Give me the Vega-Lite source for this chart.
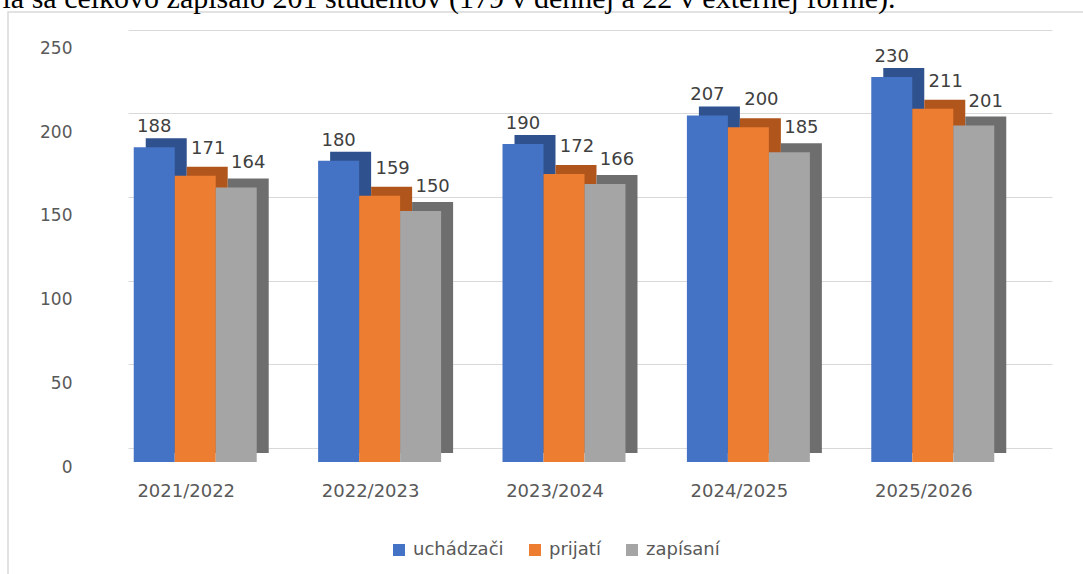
{
  "$schema": "https://vega.github.io/schema/vega-lite/v6.json",
  "autosize": "none",
  "width": 1085,
  "height": 572,
  "padding": {"left": 8, "top": 12, "right": -10, "bottom": -10},
  "background": "white",
  "data": {
    "values": [
      {"year": "2021/2022", "series": "uchádzači", "value": 188},
      {"year": "2021/2022", "series": "prijatí", "value": 171},
      {"year": "2021/2022", "series": "zapísaní", "value": 164},
      {"year": "2022/2023", "series": "uchádzači", "value": 180},
      {"year": "2022/2023", "series": "prijatí", "value": 159},
      {"year": "2022/2023", "series": "zapísaní", "value": 150},
      {"year": "2023/2024", "series": "uchádzači", "value": 190},
      {"year": "2023/2024", "series": "prijatí", "value": 172},
      {"year": "2023/2024", "series": "zapísaní", "value": 166},
      {"year": "2024/2025", "series": "uchádzači", "value": 207},
      {"year": "2024/2025", "series": "prijatí", "value": 200},
      {"year": "2024/2025", "series": "zapísaní", "value": 185},
      {"year": "2025/2026", "series": "uchádzači", "value": 230},
      {"year": "2025/2026", "series": "prijatí", "value": 211},
      {"year": "2025/2026", "series": "zapísaní", "value": 201}
    ]
  },
  "config": {
    "font": "DejaVu Sans",
    "view": {"stroke": "#D9D9D9", "strokeWidth": 1.5}
  },
  "layer": [
    {
      "mark": {"type": "bar", "opacity": 0},
      "encoding": {
        "x": {
          "field": "year", "type": "nominal",
          "scale": {"range": [120, 1044], "paddingInner": 0.333, "paddingOuter": 0.1667},
          "axis": {"orient": "top", "labels": false, "ticks": false, "domain": false, "grid": false,
            "title": "la sa celkovo zapísalo 201 študentov (179 v dennej a 22 v externej forme).",
            "titleX": -6, "titleY": -5, "titleAlign": "left", "titleAnchor": "start", "titleBaseline": "alphabetic",
            "titleFont": "Liberation Serif", "titleFontSize": 30, "titleFontWeight": "normal", "titleColor": "#000000"}
        },
        "y": {
          "field": "value", "type": "quantitative",
          "scale": {"domain": [0, 250], "range": [436, 17.5], "nice": false, "zero": true},
          "axis": {"orient": "left", "labels": false, "ticks": false, "domain": false, "grid": true, "gridColor": "#D9D9D9", "gridWidth": 1.2, "values": [0, 50, 100, 150, 200, 250], "title": null}
        }
      }
    },
    {
      "mark": {"type": "bar", "yOffset": -9, "y2Offset": -3},
      "encoding": {
        "x": {"field": "year", "type": "nominal", "scale": {"range": [107, 1029], "paddingInner": 0.333, "paddingOuter": 0.1667}, "axis": null},
        "xOffset": {"field": "series", "type": "nominal", "sort": ["uchádzači", "prijatí", "zapísaní"], "scale": {"paddingInner": 0, "paddingOuter": 0}},
        "y": {"field": "value", "type": "quantitative", "scale": {"domain": [0, 250], "range": [450, 31.5], "nice": false, "zero": true}, "axis": null},
        "color": {"field": "series", "type": "nominal", "sort": ["uchádzači", "prijatí", "zapísaní"], "scale": {"domain": ["uchádzači", "prijatí", "zapísaní"], "range": ["#2F528F", "#B0561C", "#6E6E6E"]}, "legend": null}
      }
    },
    {
      "encoding": {
        "x": {
          "field": "year", "type": "nominal",
          "scale": {"range": [95, 1017], "paddingInner": 0.333, "paddingOuter": 0.1667},
          "axis": {"orient": "bottom", "offset": -122, "domain": false, "ticks": false, "tickSize": 0, "labelPadding": 20, "labelOffset": -9, "labelAngle": 0, "labelFontSize": 18, "labelColor": "#595959", "title": null, "grid": false}
        },
        "xOffset": {"field": "series", "type": "nominal", "sort": ["uchádzači", "prijatí", "zapísaní"], "scale": {"paddingInner": 0, "paddingOuter": 0}},
        "y": {
          "field": "value", "type": "quantitative",
          "scale": {"domain": [0, 250], "range": [450, 31.5], "nice": false, "zero": true},
          "axis": {"orient": "left", "offset": -87, "domain": false, "ticks": false, "tickSize": 0, "grid": false, "labelPadding": 23, "labelOffset": 5, "labelFontSize": 17, "labelColor": "#595959", "values": [0, 50, 100, 150, 200, 250], "title": null}
        }
      },
      "layer": [
        {
          "mark": {"type": "bar"},
          "encoding": {
            "color": {
              "field": "series", "type": "nominal", "sort": ["uchádzači", "prijatí", "zapísaní"],
              "scale": {"domain": ["uchádzači", "prijatí", "zapísaní"], "range": ["#4472C4", "#ED7D31", "#A5A5A5"]},
              "legend": {"orient": "none", "legendX": 382, "legendY": 529, "direction": "horizontal", "title": null, "symbolType": "square", "symbolSize": 144, "symbolStrokeWidth": 0, "labelFontSize": 18, "labelColor": "#595959", "labelOffset": 5, "columnPadding": 22, "padding": 0}
            }
          }
        },
        {
          "transform": [{"filter": "datum.series === 'uchádzači'"}],
          "mark": {"type": "text", "fontSize": 18, "color": "#404040", "baseline": "middle", "dy": -20, "dx": 0},
          "encoding": {"text": {"field": "value", "type": "quantitative"}}
        },
        {
          "transform": [{"filter": "datum.series === 'prijatí'"}],
          "mark": {"type": "text", "fontSize": 18, "color": "#404040", "baseline": "middle", "dy": -27, "dx": 13},
          "encoding": {"text": {"field": "value", "type": "quantitative"}}
        },
        {
          "transform": [{"filter": "datum.series === 'zapísaní'"}],
          "mark": {"type": "text", "fontSize": 18, "color": "#404040", "baseline": "middle", "dy": -24, "dx": 12},
          "encoding": {"text": {"field": "value", "type": "quantitative"}}
        }
      ]
    }
  ],
  "resolve": {"scale": {"x": "independent", "y": "independent", "color": "independent", "xOffset": "independent"}, "axis": {"x": "independent", "y": "independent"}}
}
